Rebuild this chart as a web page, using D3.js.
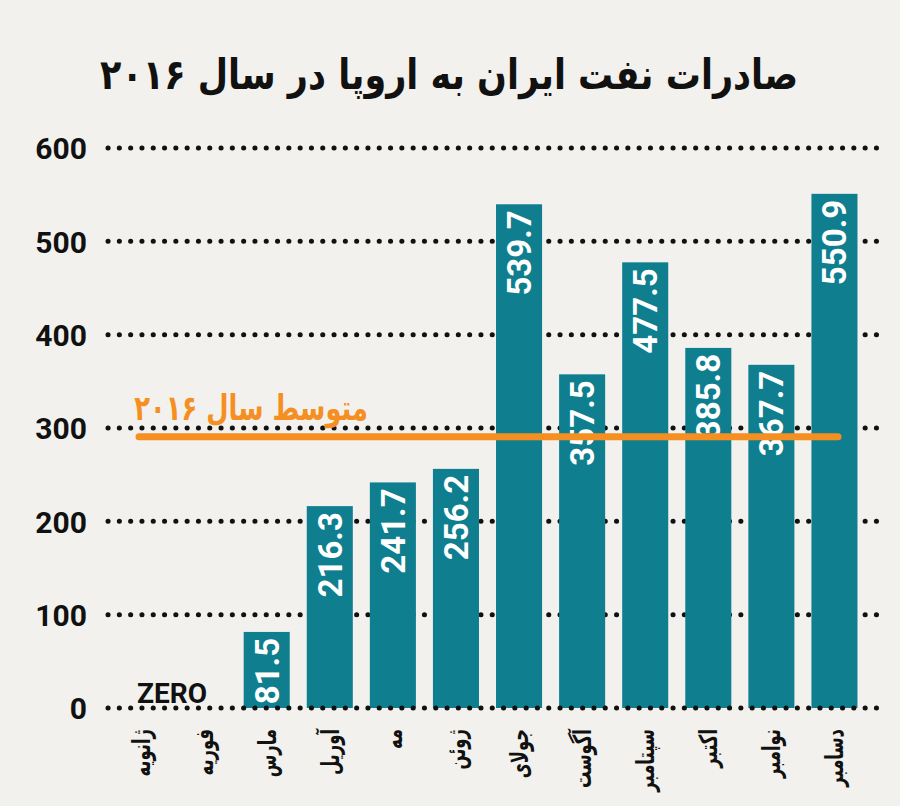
<!DOCTYPE html>
<html>
<head>
<meta charset="utf-8">
<script src="https://cdn.jsdelivr.net/npm/d3@7"></script>
<style>
  body { margin: 0; background: #f2f1ed; }
</style>
</head>
<body>
<div id="chart"></div>
<script>
var months = ["ژانویه", "فوریه", "مارس", "آوریل", "مه", "ژوئن", "جولای", "آگوست", "سپتامبر", "اکتبر", "نوامبر", "دسامبر"];
var exports2016 = [0, 0, 81.5, 216.3, 241.7, 256.2, 539.7, 357.5, 477.5, 385.8, 367.7, 550.9];
var yTicks = [0, 100, 200, 300, 400, 500, 600];
var titleText = "صادرات نفت ایران به اروپا در سال ۲۰۱۶";
var avgText = "متوسط سال ۲۰۱۶";
var zeroText = "ZERO";

function init() {
    var w = 900;
    var h = 806;
    var faFont = "'DejaVu Sans', sans-serif";
    var numFont = "Roboto, 'DejaVu Sans', sans-serif";

    var data = months.map(function(m, i) {
        return { month: m, value: exports2016[i] };
    });
    var avg = d3.mean(exports2016);

    var xScale = d3.scaleBand()
        .domain(months)
        .range([109, 866])
        .paddingInner(0.27)
        .paddingOuter(0.135);

    var yScale = d3.scaleLinear()
        .domain([0, 600])
        .range([708, 148]);

    var svg = d3.select("#chart")
        .append("svg")
        .attr("width", w)
        .attr("height", h)
        .style("background", "#f2f1ed");

    // title
    svg.append("text")
        .attr("transform", "translate(449,89) scale(1.03,1.22)")
        .attr("text-anchor", "middle")
        .style("font-family", faFont)
        .style("font-weight", "bold")
        .style("font-size", "34px")
        .attr("fill", "#111")
        .text(titleText);

    // dotted grid lines
    function dots(sel) {
        sel.attr("x1", 108)
            .attr("x2", 882)
            .attr("y1", function(d) { return yScale(d); })
            .attr("y2", function(d) { return yScale(d); })
            .attr("stroke", "#111")
            .attr("stroke-width", 5)
            .attr("stroke-linecap", "round")
            .attr("stroke-dasharray", "0.1 11.2");
    }

    svg.append("g")
        .selectAll("line")
        .data(yTicks.filter(function(d) { return d > 0; }))
        .enter()
        .append("line")
        .call(dots);

    // y axis labels
    var yAxis = d3.axisLeft(yScale)
        .tickValues(yTicks)
        .tickSize(0)
        .tickPadding(0);

    var gy = svg.append("g")
        .attr("transform", "translate(87,0)")
        .call(yAxis);
    gy.select(".domain").remove();
    gy.selectAll("text")
        .attr("dy", "0.36em")
        .style("font-family", numFont)
        .style("font-weight", "bold")
        .style("font-size", "30px")
        .attr("fill", "#111");

    // bars
    svg.selectAll("rect.bar")
        .data(data.filter(function(d) { return d.value > 0; }))
        .enter()
        .append("rect")
        .attr("class", "bar")
        .attr("x", function(d) { return xScale(d.month); })
        .attr("y", function(d) { return yScale(d.value); })
        .attr("width", xScale.bandwidth())
        .attr("height", function(d) { return yScale(0) - yScale(d.value); })
        .attr("fill", "#0f7f8f");

    // baseline dots drawn over the bars
    svg.append("g")
        .selectAll("line")
        .data([0])
        .enter()
        .append("line")
        .call(dots);

    // value labels inside bars
    svg.selectAll("text.val")
        .data(data.filter(function(d) { return d.value > 0; }))
        .enter()
        .append("text")
        .attr("class", "val")
        .attr("transform", function(d) {
            return "translate(" + (xScale(d.month) + xScale.bandwidth() / 2 + 12) + "," + (yScale(d.value) + 6) + ") rotate(-90)";
        })
        .attr("text-anchor", "end")
        .style("font-family", numFont)
        .style("font-weight", "bold")
        .style("font-size", "33px")
        .attr("fill", "#fff")
        .text(function(d) { return d3.format(".1f")(d.value); });

    // ZERO label
    svg.append("text")
        .attr("x", (xScale(months[0]) + xScale(months[1]) + xScale.bandwidth()) / 2)
        .attr("y", 703)
        .attr("text-anchor", "middle")
        .style("font-family", numFont)
        .style("font-weight", "bold")
        .style("font-size", "28px")
        .attr("fill", "#111")
        .text(zeroText);

    // average line
    svg.append("line")
        .attr("x1", 139)
        .attr("x2", 838)
        .attr("y1", yScale(avg) - 1)
        .attr("y2", yScale(avg) - 1)
        .attr("stroke", "#f58f22")
        .attr("stroke-width", 7)
        .attr("stroke-linecap", "round");

    svg.append("text")
        .attr("transform", "translate(368,420) scale(0.92,1.25)")
        .attr("text-anchor", "end")
        .style("font-family", faFont)
        .style("font-weight", "bold")
        .style("font-size", "28px")
        .attr("fill", "#f58f22")
        .text(avgText);

    // month labels
    svg.selectAll("text.month")
        .data(data)
        .enter()
        .append("text")
        .attr("class", "month")
        .attr("transform", function(d) {
            return "translate(" + (xScale(d.month) + xScale.bandwidth() / 2 + 9) + ",729) rotate(-90) scale(0.82,1.25)";
        })
        .attr("text-anchor", "end")
        .style("font-family", faFont)
        .style("font-weight", "bold")
        .style("font-size", "20px")
        .attr("fill", "#111")
        .text(function(d) { return d.month; });
}

window.onload = init;
</script>
</body>
</html>
